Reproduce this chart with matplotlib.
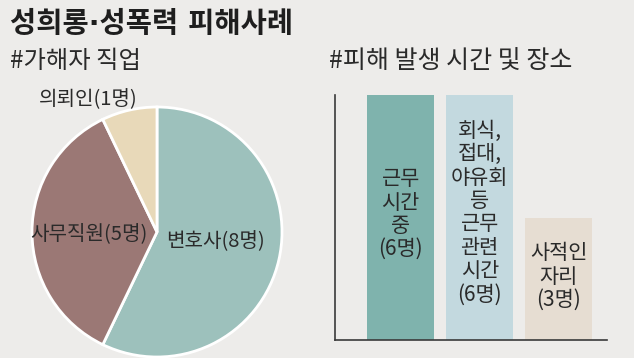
import matplotlib
matplotlib.use("Agg")
import matplotlib.pyplot as plt

plt.rcParams['font.family'] = ['Noto Sans CJK KR', 'DejaVu Sans']

# Data
title = "성희롱·성폭력 피해사례"
pie_title = "#가해자 직업"
pie_labels = ["변호사(8명)", "사무직원(5명)", "의뢰인(1명)"]
pie_values = [8, 5, 1]
pie_colors = ["#9dc1bc", "#9b7875", "#e8d9b9"]

bar_title = "#피해 발생 시간 및 장소"
bar_labels = ["근무\n시간\n중\n(6명)",
              "회식,\n접대,\n야유회\n등\n근무\n관련\n시간\n(6명)",
              "사적인\n자리\n(3명)"]
bar_values = [6, 6, 3]
bar_colors = ["#7fb3ad", "#c3d9df", "#e6ddd2"]

W, H = 634, 358
bg = "#edecea"
fig = plt.figure(figsize=(W / 100, H / 100), dpi=100, facecolor=bg)

def px(x, y):
    return x / W, 1 - y / H

# Titles
fig.text(*px(10, 24), title, fontsize=20.5, fontweight='bold', color='#1e1e1e',
         va='center', ha='left', family=['DejaVu Sans', 'Noto Sans CJK KR'])
fig.text(*px(10, 61), pie_title, fontsize=17.5, fontweight='light', color='#2a2a2a', va='center', ha='left')
fig.text(*px(329, 62), bar_title, fontsize=18, fontweight='light', color='#2a2a2a', va='center', ha='left')

# Pie
cx, cy, r = 157, 232, 125
axp = fig.add_axes([(cx - r) / W, 1 - (cy + r) / H, 2 * r / W, 2 * r / H])
axp.set_facecolor(bg)
axp.pie(pie_values, colors=pie_colors, startangle=90, counterclock=False,
        wedgeprops=dict(edgecolor='white', linewidth=2))
axp.set_xlim(-1, 1)
axp.set_ylim(-1, 1)
axp.set_aspect('auto')
label_pos = [(216, 242), (89, 234), (88, 100)]
for lab, (lx, ly) in zip(pie_labels, label_pos):
    axp.text((lx - cx) / r, (cy - ly) / r, lab, fontsize=14.5, fontweight='light', color='#2a2a2a',
             ha='center', va='center', clip_on=False)

# Bars
x0, x1, yb, yt = 335, 607, 340, 95
axb = fig.add_axes([x0 / W, 1 - yb / H, (x1 - x0) / W, (yb - yt) / H])
axb.set_facecolor(bg)
pos = list(range(len(bar_values)))
axb.bar(pos, bar_values, width=0.85, color=bar_colors)
axb.set_xlim(-0.83, 2.61)
axb.set_ylim(0, 6)
for s in ['top', 'right']:
    axb.spines[s].set_visible(False)
for s in ['left', 'bottom']:
    axb.spines[s].set_color('#3a3a3a')
    axb.spines[s].set_linewidth(1.2)
axb.set_xticks([])
axb.set_yticks([])
text_y = [3.08, 3.12, 1.55]
for p, lab, ty in zip(pos, bar_labels, text_y):
    axb.text(p, ty, lab, fontsize=15, fontweight='light', color='#2a2a2a', ha='center', va='center',
             linespacing=1.08)

fig.savefig("out.png", dpi=100, facecolor=bg)
